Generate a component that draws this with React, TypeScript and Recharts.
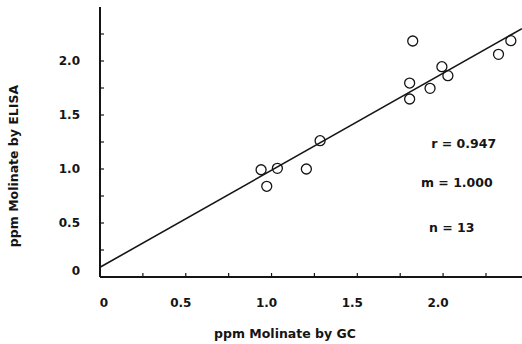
import { ScatterChart, Scatter, XAxis, YAxis, ReferenceLine, ReferenceDot, Label } from 'recharts'

const GC_PPM = [0.939, 0.972, 1.034, 1.203, 1.283, 1.805, 1.805, 1.823, 1.924, 1.993, 2.028, 2.323, 2.395]
const ELISA_PPM = [0.993, 0.84, 1.006, 1.0, 1.262, 1.796, 1.648, 2.185, 1.747, 1.947, 1.864, 2.062, 2.188]

const FIT_X = [0, 2.46]
const FIT_Y = [0.09, 2.3]

const TICKS = [0, 0.25, 0.5, 0.75, 1, 1.25, 1.5, 1.75, 2, 2.25]

const STATS = ['r = 0.947', 'm = 1.000', 'n = 13']
const STATS_X = [2.12, 2.08, 2.05]
const STATS_Y = [1.24, 0.87, 0.46]

const points = GC_PPM.map((x, i) => ({ x, y: ELISA_PPM[i] }))

const FONT = '"DejaVu Sans", sans-serif'
const INK = '#151515'

const fmt = (v: number) => (v === 0 ? '0' : v.toFixed(1))
const isMajor = (v: number) => Math.abs(v * 2 - Math.round(v * 2)) < 1e-6

function XTick({ x, y, payload }: any) {
  const v = payload.value as number
  return (
    <g>
      <line x1={x} x2={x} y1={y - 21} y2={y - 25} stroke={INK} strokeWidth={1.2} />
      {isMajor(v) && (
        <text x={x + (v === 0 ? 4 : -5)} y={y} dy="0.71em" textAnchor="middle" fontFamily={FONT} fontWeight="bold" fontSize={12} fill={INK}>
          {fmt(v)}
        </text>
      )}
    </g>
  )
}

function YTick({ x, y, payload }: any) {
  const v = payload.value as number
  return (
    <g>
      <line x1={x + 20} x2={x + 24} y1={y} y2={y} stroke={INK} strokeWidth={1.2} />
      {isMajor(v) && (
        <text x={x} y={v === 0 ? y - 6 : y} dy="0.36em" textAnchor="end" fontFamily={FONT} fontWeight="bold" fontSize={12} fill={INK}>
          {fmt(v)}
        </text>
      )}
    </g>
  )
}

function Ring({ cx, cy }: any) {
  return <circle cx={cx} cy={cy} r={5} fill="none" stroke={INK} strokeWidth={1.3} />
}

export default function App() {
  return (
    <div style={{ position: 'fixed', left: 0, top: 0, background: '#fff', width: 522, height: 344 }}>
      <ScatterChart width={522} height={344} margin={{ top: 7, right: 0, bottom: 0, left: 0 }}>
        <XAxis
          type="number"
          dataKey="x"
          domain={[0, 2.46]}
          ticks={TICKS}
          interval={0}
          tick={<XTick />}
          tickLine={false}
          tickSize={0}
          tickMargin={21}
          height={67}
          axisLine={{ stroke: INK, strokeWidth: 2 }}
        >
          <Label
            content={({ viewBox }: any) => (
              <text x={viewBox.x + 185} y={viewBox.y + 61} textAnchor="middle" fontFamily={FONT} fontWeight="bold" fontSize={12.5} fill={INK}>
                ppm Molinate by GC
              </text>
            )}
          />
        </XAxis>
        <YAxis
          type="number"
          dataKey="y"
          domain={[0, 2.5]}
          ticks={TICKS}
          interval={0}
          tick={<YTick />}
          tickLine={false}
          tickSize={0}
          tickMargin={20}
          width={100}
          axisLine={{ stroke: INK, strokeWidth: 2 }}
        >
          <Label
            content={() => (
              <text
                x={18}
                y={166}
                transform="rotate(-90 18 166)"
                textAnchor="middle"
                fontFamily={FONT}
                fontWeight="bold"
                fontSize={12.5}
                fill={INK}
              >
                ppm Molinate by ELISA
              </text>
            )}
          />
        </YAxis>
        <ReferenceLine
          segment={[{ x: FIT_X[0], y: FIT_Y[0] }, { x: FIT_X[1], y: FIT_Y[1] }]}
          stroke={INK}
          strokeWidth={1.6}
          ifOverflow="visible"
        />
        <Scatter data={points} shape={<Ring />} isAnimationActive={false} />
        {STATS.map((s, i) => (
          <ReferenceDot
            key={s}
            x={STATS_X[i]}
            y={STATS_Y[i]}
            r={0}
            fill="none"
            stroke="none"
            label={{ value: s, position: 'center', fontFamily: FONT, fontWeight: 'bold', fontSize: 12.5, fill: INK }}
          />
        ))}
      </ScatterChart>
    </div>
  )
}
